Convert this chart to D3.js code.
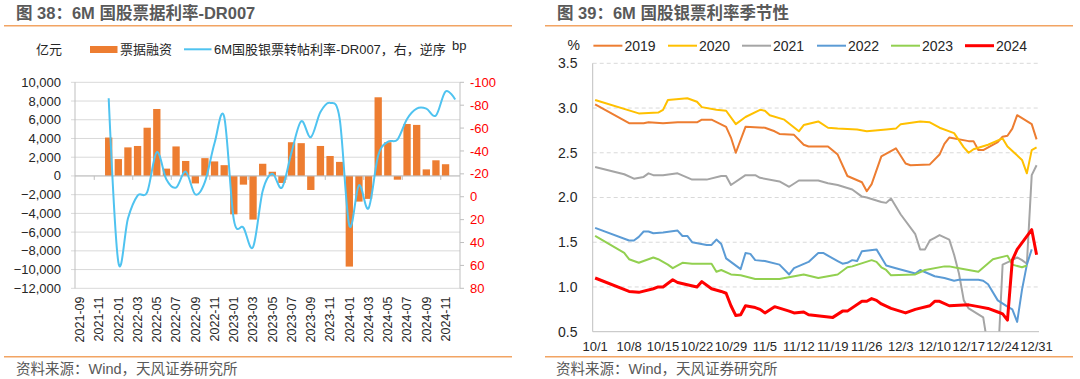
<!DOCTYPE html>
<html><head><meta charset="utf-8">
<script src="https://cdn.jsdelivr.net/npm/d3@7"></script>
<style>
body{margin:0;background:#fff;}
svg{display:block;font-family:"Liberation Sans","Noto Sans CJK SC",sans-serif;}
</style>
</head><body>
<svg id="c" width="1080" height="379"></svg>
<script>
// ---------- Left chart data ----------
const months = ["2021-09","2021-10","2021-11","2021-12","2022-01","2022-02","2022-03","2022-04","2022-05","2022-06",
  "2022-07","2022-08","2022-09","2022-10","2022-11","2022-12","2023-01","2023-02","2023-03","2023-04",
  "2023-05","2023-06","2023-07","2023-08","2023-09","2023-10","2023-11","2023-12","2024-01","2024-02",
  "2024-03","2024-04","2024-05","2024-06","2024-07","2024-08","2024-09","2024-10","2024-11","2024-12"];
const barMonths = months.slice(3, 39);
const billFinancing = [4100,1800,3050,3200,5150,7150,780,3150,1600,-800,1900,1550,1150,
  -4100,-930,-4660,1300,450,-750,3600,3500,-1500,3200,2130,1500,
  -9680,-2740,-2450,8400,3600,-400,5550,5450,700,1670,1250];
const lineMonths = months.slice(3, 40);
const spreadBp = [-86,57,19,-1,-4,-39,-15,-8,-22,-2,-13,-47,-70,
  20,27,44,-5,-20,-8,-39,-66,-52,-74,-82,-68,
  25,-10,10,-36,-48,-50,-68,-77,-77,-71,-92,-85];
const leftTicks = [10000,8000,6000,4000,2000,0,-2000,-4000,-6000,-8000,-10000,-12000];
const rightTicks = [-100,-80,-60,-40,-20,0,20,40,60,80];

// ---------- Right chart data ----------
const dayLabels = ["10/1","10/8","10/15","10/22","10/29","11/5","11/12","11/19","11/26","12/3","12/10","12/17","12/24","12/31"];
const yearNames = ["2019","2020","2021","2022","2023","2024"];
const s2019 = [[0,3.04],[7,2.83],[10,2.83],[11,2.84],[14,2.83],[17,2.84],[21,2.84],[22,2.87],[24,2.87],[27,2.79],[28,2.67],[29,2.50],[31,2.79],[35,2.78],[37,2.74],[38,2.71],[41,2.70],[43,2.59],[44,2.57],[48,2.57],[50,2.48],[52,2.24],[55,2.17],[56,2.07],[57,2.15],[59,2.46],[62,2.55],[64,2.38],[65,2.36],[69,2.37],[71,2.48],[72,2.60],[73,2.67],[77,2.63],[78,2.63],[79,2.53],[80,2.53],[83,2.62],[84,2.68],[85,2.69],[86,2.77],[87,2.92],[90,2.82],[91,2.65]];
const s2020 = [[0,3.09],[9,2.94],[13,2.95],[14,2.98],[15,3.09],[19,3.11],[21,3.07],[22,3.01],[25,2.98],[27,2.97],[29,2.82],[31,2.90],[34,2.98],[35,2.97],[36,2.92],[39,2.87],[42,2.74],[43,2.81],[46,2.85],[48,2.78],[50,2.77],[54,2.76],[56,2.74],[60,2.76],[62,2.77],[63,2.82],[67,2.85],[69,2.84],[71,2.78],[74,2.72],[76,2.56],[77,2.50],[78,2.54],[81,2.59],[84,2.66],[85,2.57],[88,2.42],[89,2.27],[90,2.53],[91,2.56]];
const s2021 = [[0,2.34],[6,2.26],[8,2.21],[10,2.23],[11,2.27],[12,2.25],[14,2.25],[17,2.27],[20,2.20],[23,2.20],[26,2.24],[27,2.24],[28,2.14],[31,2.25],[33,2.25],[34,2.22],[38,2.18],[40,2.12],[42,2.19],[46,2.19],[48,2.16],[50,2.14],[53,2.09],[55,2.01],[56,2.00],[59,1.95],[60,1.94],[61,1.99],[63,1.81],[66,1.59],[67,1.42],[68,1.42],[69,1.52],[70,1.55],[71,1.58],[73,1.53],[74,1.36],[75,1.15],[76,0.85],[77,0.76],[80,0.66],[81,0.32],[82,0.20],[83,0.15],[84,1.25],[86,1.30],[87,1.33],[88,1.30],[89,1.26],[90,2.25],[91,2.36]];
const s2022 = [[0,1.66],[7,1.52],[8,1.52],[9,1.56],[10,1.62],[11,1.62],[12,1.60],[14,1.61],[17,1.63],[18,1.57],[19,1.57],[20,1.50],[23,1.47],[24,1.47],[25,1.53],[26,1.48],[27,1.32],[30,1.20],[31,1.38],[32,1.37],[33,1.30],[35,1.29],[38,1.25],[40,1.14],[41,1.21],[44,1.28],[46,1.38],[47,1.38],[50,1.29],[51,1.26],[52,1.27],[53,1.30],[54,1.29],[55,1.40],[58,1.42],[60,1.24],[62,1.21],[66,1.15],[67,1.19],[70,1.12],[72,1.10],[74,1.07],[75,1.08],[79,1.08],[80,1.07],[81,1.03],[83,0.85],[85,0.78],[86,0.75],[87,0.61],[88,0.97],[89,1.25],[90,1.42]];
const s2023 = [[0,1.57],[6,1.38],[7,1.31],[9,1.27],[12,1.33],[13,1.31],[15,1.25],[16,1.21],[18,1.27],[20,1.26],[24,1.26],[25,1.17],[26,1.19],[28,1.14],[30,1.13],[33,1.09],[35,1.09],[38,1.09],[43,1.14],[46,1.10],[50,1.14],[52,1.22],[53,1.23],[57,1.30],[58,1.28],[59,1.22],[60,1.19],[61,1.13],[66,1.14],[68,1.19],[72,1.23],[73,1.23],[75,1.21],[79,1.17],[82,1.31],[85,1.35],[86,1.25],[88,1.22],[89,1.24]];
const s2024 = [[0,1.10],[7,0.95],[9,0.94],[12,0.98],[13,1.00],[14,1.00],[16,1.08],[17,1.05],[21,1.00],[22,1.06],[24,0.98],[26,0.95],[27,0.93],[28,0.79],[29,0.68],[30,0.69],[31,0.79],[33,0.77],[34,0.75],[35,0.71],[37,0.78],[40,0.73],[41,0.71],[43,0.72],[44,0.69],[49,0.66],[51,0.73],[52,0.73],[55,0.84],[56,0.84],[57,0.87],[58,0.85],[59,0.81],[61,0.76],[64,0.71],[66,0.75],[69,0.79],[70,0.84],[71,0.84],[73,0.79],[77,0.80],[79,0.78],[81,0.76],[83,0.72],[84,0.70],[85,0.63],[86,1.30],[87,1.42],[90,1.64],[91,1.36]];
const pctTicks = [3.5,3.0,2.5,2.0,1.5,1.0,0.5];

// ---------- Drawing ----------
const svg = d3.select("#c");
const txtCol = "#262626";
const sepCol = "#F2A463";

function title(x, t) {
  svg.append("text").attr("x", x).attr("y", 19).attr("font-size", 16.5).attr("font-weight", "bold")
    .attr("fill", "#595959").text(t);
}
function sep(x0, x1, y) {
  svg.append("line").attr("x1", x0).attr("x2", x1).attr("y1", y).attr("y2", y)
    .attr("stroke", sepCol).attr("stroke-width", 1.5);
}
function source(x) {
  svg.append("text").attr("x", x).attr("y", 374).attr("font-size", 14.5).attr("fill", "#595959")
    .text("资料来源：Wind，天风证券研究所");
}

// ===== Left chart =====
title(16, "图 38：6M 国股票据利率-DR007");
sep(4, 512, 25.7);
sep(4, 512, 356.7);
source(16);

const LX0 = 75, LX1 = 460, LYT = 82.3, LYB = 288.3;
const xB = d3.scaleBand().domain(months).range([LX0, LX1]).paddingInner(0.24).paddingOuter(0.12);
const yL = d3.scaleLinear().domain([-12000, 10000]).range([LYB, LYT]);
const yR = d3.scaleLinear().domain([80, -100]).range([LYB, LYT]);
const ctr = m => xB(m) + xB.bandwidth() / 2;

const gL = svg.append("g");
gL.selectAll("line.grid").data(leftTicks).join("line")
  .attr("x1", LX0 - 4).attr("x2", LX1).attr("y1", d => yL(d)).attr("y2", d => yL(d))
  .attr("stroke", "#D9D9D9").attr("stroke-width", 1);
gL.selectAll("text.yl").data(leftTicks).join("text")
  .attr("x", 61).attr("y", d => yL(d)).attr("dy", "0.35em").attr("text-anchor", "end")
  .attr("font-size", 13).attr("fill", txtCol).text(d => d3.format(",")(d));
gL.selectAll("text.yr").data(rightTicks).join("text")
  .attr("x", 470).attr("y", d => yR(d)).attr("dy", "0.35em").attr("text-anchor", "start")
  .attr("font-size", 13).attr("fill", "#FF0000").text(d => d);
gL.selectAll("line.rt").data(rightTicks).join("line")
  .attr("x1", LX1).attr("x2", LX1 + 4).attr("y1", d => yR(d)).attr("y2", d => yR(d))
  .attr("stroke", "#BFBFBF");
gL.append("line").attr("x1", LX0).attr("x2", LX0).attr("y1", LYT).attr("y2", LYB).attr("stroke", "#BFBFBF");
gL.append("line").attr("x1", LX1).attr("x2", LX1).attr("y1", LYT).attr("y2", LYB).attr("stroke", "#BFBFBF");

gL.selectAll("rect.bar").data(barMonths.map((m, i) => [m, billFinancing[i]])).join("rect")
  .attr("x", d => xB(d[0])).attr("width", xB.bandwidth())
  .attr("y", d => yL(Math.max(0, d[1]))).attr("height", d => Math.abs(yL(d[1]) - yL(0)))
  .attr("fill", "#ED7D31");

// zero axis with ticks
gL.append("line").attr("x1", LX0).attr("x2", LX1).attr("y1", yL(0)).attr("y2", yL(0)).attr("stroke", "#BFBFBF");
const step = xB.step();
gL.selectAll("line.xt").data(months.filter((m, i) => i % 4 === 2)).join("line")
  .attr("x1", d => xB(d) - step * 0.12).attr("x2", d => xB(d) - step * 0.12)
  .attr("y1", yL(0)).attr("y2", yL(0) + 4).attr("stroke", "#BFBFBF");

gL.append("path").datum(lineMonths.map((m, i) => [m, spreadBp[i]]))
  .attr("fill", "none").attr("stroke", "#4FC3F0").attr("stroke-width", 2)
  .attr("d", d3.line().x(d => ctr(d[0])).y(d => yR(d[1])).curve(d3.curveCardinal.tension(0)));

gL.selectAll("text.xl").data(months.filter((m, i) => i % 2 === 0)).join("text")
  .attr("transform", d => `translate(${ctr(d)},296.5) rotate(-90)`)
  .attr("dy", "0.35em").attr("text-anchor", "end").attr("font-size", 12.5).attr("fill", txtCol).text(d => d);

// legend
svg.append("text").attr("x", 36).attr("y", 53.5).attr("font-size", 13).attr("fill", txtCol).text("亿元");
svg.append("rect").attr("x", 90).attr("y", 46).attr("width", 27.5).attr("height", 7).attr("fill", "#ED7D31");
svg.append("text").attr("x", 120).attr("y", 53.5).attr("font-size", 13).attr("fill", txtCol).text("票据融资");
svg.append("line").attr("x1", 184).attr("x2", 211.5).attr("y1", 49.3).attr("y2", 49.3)
  .attr("stroke", "#4FC3F0").attr("stroke-width", 2);
svg.append("text").attr("x", 214).attr("y", 53.5).attr("font-size", 13).attr("fill", txtCol).text("6M国股银票转帖利率-DR007，右，逆序");
svg.append("text").attr("x", 452).attr("y", 50).attr("font-size", 13).attr("fill", txtCol).text("bp");

// ===== Right chart =====
title(557, "图 39：6M 国股银票利率季节性");
sep(545, 1073, 25.7);
sep(545, 1073, 356.7);
source(556);

const RX0 = 592.7, RX1 = 1039, RYT = 63.3, RYB = 331.7;
const bw = (RX1 - RX0) / 92;
const xD = d3.scaleLinear().domain([0, 91]).range([RX0 + bw / 2, RX1 - bw / 2]);
const yP = d3.scaleLinear().domain([0.5, 3.5]).range([RYB, RYT]);
const gR = svg.append("g");
gR.selectAll("line.grid").data(pctTicks.filter(v => v > 0.5)).join("line")
  .attr("x1", RX0).attr("x2", RX1).attr("y1", d => yP(d)).attr("y2", d => yP(d))
  .attr("stroke", "#D9D9D9").attr("stroke-dasharray", "4,3");
gR.selectAll("text.yl").data(pctTicks).join("text")
  .attr("x", 577.5).attr("y", d => yP(d)).attr("dy", "0.35em").attr("text-anchor", "end")
  .attr("font-size", 14).attr("fill", txtCol).text(d => d.toFixed(1));
gR.selectAll("text.xl").data(dayLabels).join("text")
  .attr("x", (d, i) => xD(i * 7)).attr("y", 351).attr("text-anchor", "middle")
  .attr("font-size", 13).attr("fill", txtCol).text(d => d);

svg.append("defs").append("clipPath").attr("id", "rclip").append("rect")
  .attr("x", RX0).attr("y", 30).attr("width", RX1 - RX0 + 10).attr("height", RYB - 30);

const series = [s2019, s2020, s2021, s2022, s2023, s2024];
const colors = ["#ED7D31", "#FFC000", "#A5A5A5", "#5B9BD5", "#92D050", "#FF0000"];
const widths = [2, 2, 2, 2, 2, 3];
const lineGen = d3.line().x(d => xD(d[0])).y(d => yP(d[1]));
const gLines = gR.append("g").attr("clip-path", "url(#rclip)");
series.forEach((s, i) => {
  gLines.append("path").datum(s).attr("fill", "none").attr("stroke", colors[i])
    .attr("stroke-width", widths[i]).attr("stroke-linejoin", "round").attr("d", lineGen);
});
gR.append("line").attr("x1", RX0).attr("x2", RX0).attr("y1", RYT).attr("y2", RYB).attr("stroke", "#BFBFBF");
gR.append("line").attr("x1", RX0).attr("x2", RX1).attr("y1", RYB).attr("y2", RYB).attr("stroke", "#BFBFBF");

// legend
svg.append("text").attr("x", 567.5).attr("y", 49.5).attr("font-size", 14).attr("fill", txtCol).text("%");
const legX = [593.4, 668, 742, 817, 891, 965];
yearNames.forEach((n, i) => {
  svg.append("line").attr("x1", legX[i]).attr("x2", legX[i] + 29).attr("y1", 45.7).attr("y2", 45.7)
    .attr("stroke", colors[i]).attr("stroke-width", widths[i]);
  svg.append("text").attr("x", legX[i] + 31).attr("y", 50.5).attr("font-size", 14).attr("fill", txtCol).text(n);
});
</script>
</body></html>
